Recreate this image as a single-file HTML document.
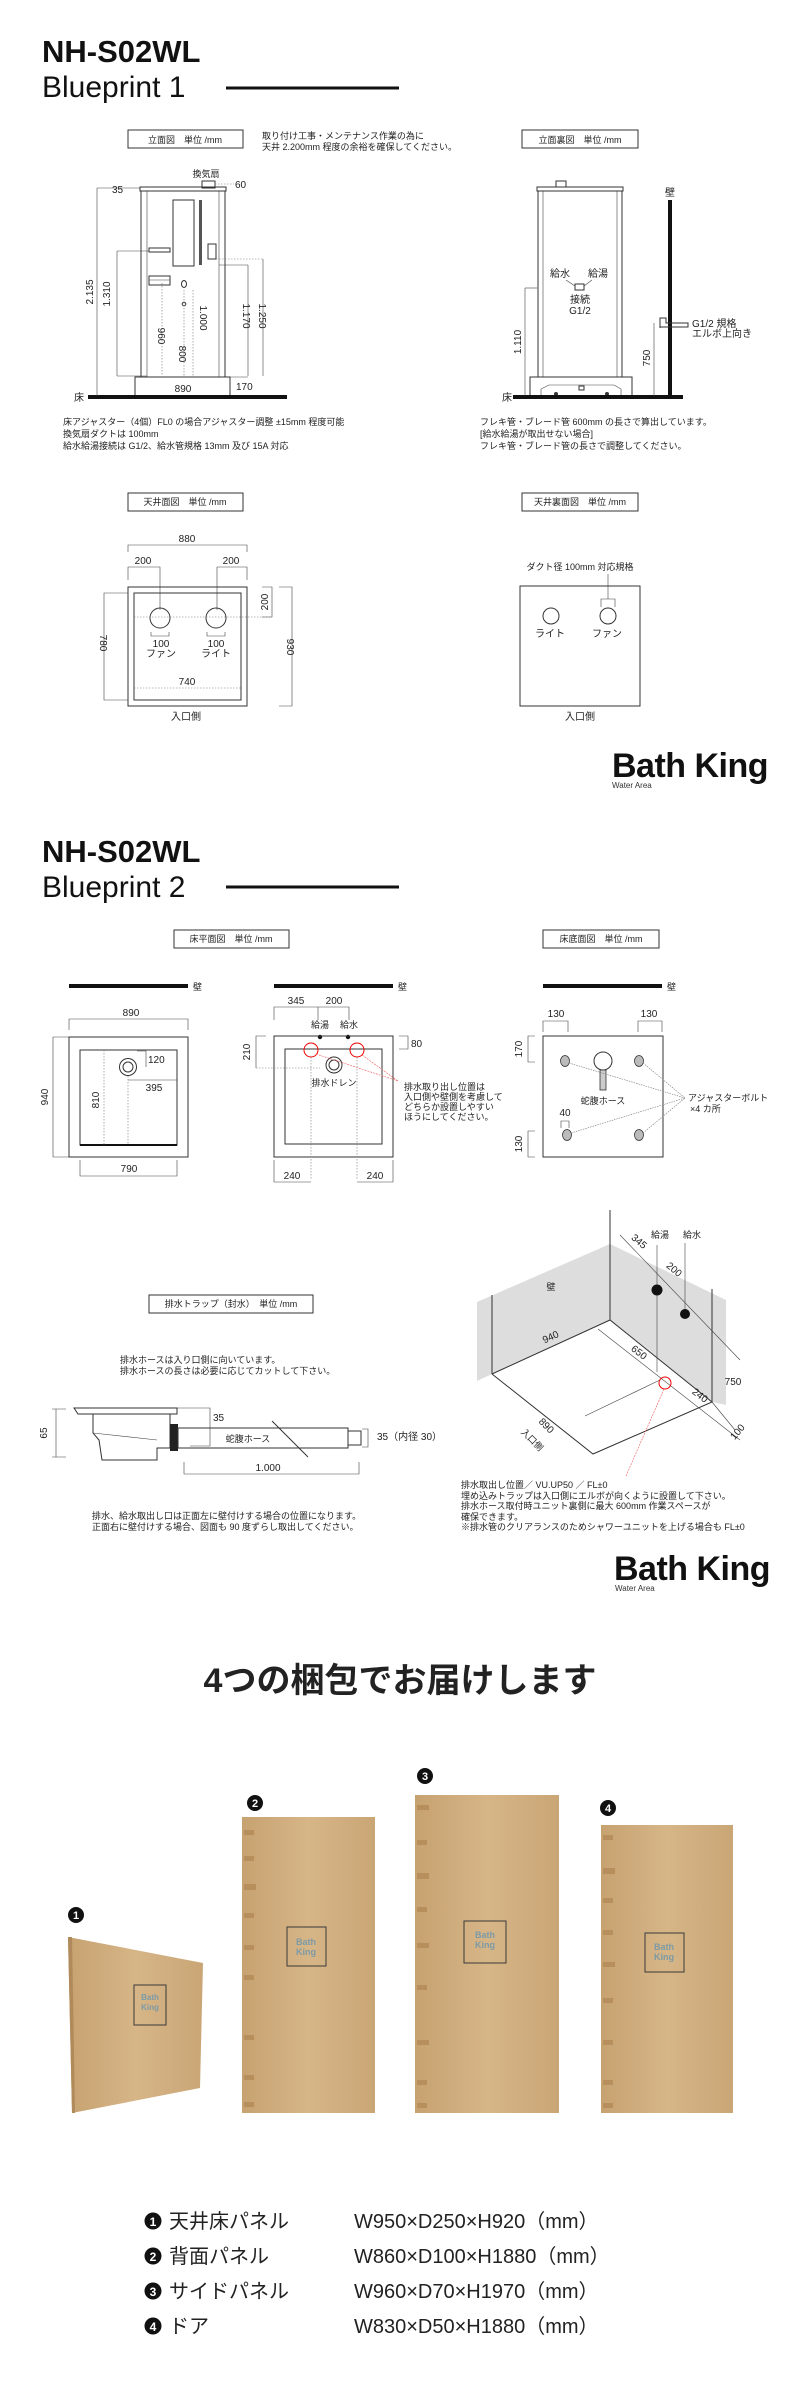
<!DOCTYPE html>
<html><head><meta charset="utf-8"><style>
html,body{margin:0;padding:0;background:#fff;}
svg{display:block;}
text{font-family:"Liberation Sans","Noto Sans CJK JP",sans-serif;fill:#222;}
.s{font-size:9px;}
.m{font-size:10px;}
.ln{stroke:#333;stroke-width:1;fill:none;}
.th{stroke:#444;stroke-width:0.6;fill:none;}
.dt{stroke:#777;stroke-width:0.6;fill:none;stroke-dasharray:1.5 1.5;}
</style></head><body>
<svg width="800" height="2400" viewBox="0 0 800 2400" xmlns="http://www.w3.org/2000/svg">
<defs>
<linearGradient id="cb" x1="0" y1="0" x2="1" y2="0">
<stop offset="0" stop-color="#c7a271"/><stop offset="0.5" stop-color="#d6b587"/><stop offset="1" stop-color="#caa676"/>
</linearGradient>
</defs>

<!-- ===== Blueprint 1 header ===== -->
<text x="42" y="62" style="font-size:31px;font-weight:bold;fill:#111">NH-S02WL</text>
<text x="42" y="97" style="font-size:30px;fill:#111">Blueprint 1</text>
<rect x="226" y="86.5" width="173" height="3" fill="#111"/>

<!-- boxes -->
<rect x="128" y="130" width="115" height="18" class="ln" stroke-width="1.2"/>
<text x="185" y="143" class="s" text-anchor="middle">立面図　単位 /mm</text>
<text x="262" y="139" class="s">取り付け工事・メンテナンス作業の為に</text>
<text x="262" y="150" class="s">天井 2.200mm 程度の余裕を確保してください。</text>
<rect x="522" y="130" width="116" height="18" class="ln" stroke-width="1.2"/>
<text x="580" y="143" class="s" text-anchor="middle">立面裏図　単位 /mm</text>

<!-- left elevation -->
<text x="206" y="177" class="s" text-anchor="middle">換気扇</text>
<rect x="202" y="181" width="13" height="7" class="ln"/>
<line x1="215" y1="184" x2="234" y2="184" class="dt"/>
<text x="235" y="188" class="m">60</text>
<line x1="97" y1="188" x2="140" y2="188" class="th"/>
<text x="112" y="193" class="m">35</text>
<rect x="140" y="187" width="86" height="4" class="ln"/>
<rect x="141" y="191" width="84" height="186" class="ln"/>
<line x1="147" y1="191" x2="147" y2="377" class="th"/>
<line x1="219" y1="191" x2="219" y2="377" class="th"/>
<rect x="173" y="200" width="21" height="66" class="ln"/>
<rect x="199" y="200" width="3" height="65" fill="#555"/>
<rect x="208" y="244" width="8" height="15" class="ln"/>
<rect x="149" y="248" width="21" height="4" class="ln"/>
<rect x="149" y="276" width="21" height="9" class="ln"/>
<line x1="149" y1="280" x2="170" y2="280" class="th"/>
<ellipse cx="184" cy="284" rx="2.5" ry="3.5" class="ln"/>
<circle cx="184" cy="304" r="1.8" class="ln"/>
<rect x="135" y="377" width="95" height="20" class="ln"/>
<rect x="88" y="395" width="199" height="4" fill="#111"/>
<text x="74" y="401" class="m">床</text>
<text x="183" y="392" class="m" text-anchor="middle">890</text>
<text x="236" y="390" class="m">170</text>
<line x1="230" y1="377" x2="248" y2="377" class="th"/>
<!-- dims -->
<line x1="97" y1="188" x2="97" y2="396" class="th"/>
<text x="93" y="292" class="m" text-anchor="middle" transform="rotate(-90 93 292)">2.135</text>
<line x1="117" y1="251" x2="117" y2="376" class="th"/>
<line x1="117" y1="251" x2="149" y2="251" class="th"/>
<line x1="117" y1="376" x2="147" y2="376" class="th"/>
<text x="110" y="294" class="m" text-anchor="middle" transform="rotate(-90 110 294)">1.310</text>
<line x1="162" y1="283" x2="162" y2="376" class="dt"/>
<text x="158" y="336" class="m" text-anchor="middle" transform="rotate(90 158 336)">960</text>
<line x1="184" y1="290" x2="184" y2="376" class="dt"/>
<text x="179" y="354" class="m" text-anchor="middle" transform="rotate(90 179 354)">800</text>
<line x1="193" y1="290" x2="193" y2="376" class="dt"/>
<text x="200" y="318" class="m" text-anchor="middle" transform="rotate(90 200 318)">1.000</text>
<line x1="219" y1="265" x2="248" y2="265" class="th"/>
<line x1="248" y1="265" x2="248" y2="376" class="th"/>
<text x="243" y="316" class="m" text-anchor="middle" transform="rotate(90 243 316)">1.170</text>
<line x1="216" y1="259" x2="263" y2="259" class="dt"/>
<line x1="263" y1="259" x2="263" y2="376" class="th"/>
<text x="259" y="316" class="m" text-anchor="middle" transform="rotate(90 259 316)">1.250</text>

<!-- right rear elevation -->
<rect x="556" y="181" width="10" height="6" class="ln"/>
<rect x="537" y="187" width="86" height="4" class="ln"/>
<rect x="538" y="191" width="84" height="186" class="ln"/>
<line x1="543" y1="191" x2="543" y2="377" class="th"/>
<line x1="617" y1="191" x2="617" y2="377" class="th"/>
<rect x="530" y="377" width="102" height="19" class="ln"/>
<path d="M541 396 L541 389 L549 385 L614 385 L621 389 L621 396" class="th"/>
<rect x="579" y="386" width="5" height="4" class="ln"/>
<circle cx="556" cy="394" r="2" fill="#333"/><circle cx="607" cy="394" r="2" fill="#333"/>
<rect x="513" y="395" width="170" height="4" fill="#111"/>
<text x="502" y="401" class="m">床</text>
<rect x="668" y="200" width="4" height="197" fill="#111"/>
<text x="670" y="196" class="m" text-anchor="middle">壁</text>
<text x="560" y="277" class="m" text-anchor="middle">給水</text>
<text x="598" y="277" class="m" text-anchor="middle">給湯</text>
<line x1="566" y1="280" x2="575" y2="286" class="th"/><line x1="592" y1="280" x2="584" y2="286" class="th"/>
<rect x="575" y="284" width="9" height="6" class="ln"/>
<text x="580" y="303" class="m" text-anchor="middle">接続</text>
<text x="580" y="314" class="m" text-anchor="middle">G1/2</text>
<path d="M660 328 L660 318 L666 318 L666 323 L688 323 L688 327 L660 327" class="ln"/>
<text x="692" y="327" class="m">G1/2 規格</text>
<text x="692" y="337" class="m">エルボ上向き</text>
<line x1="525" y1="288" x2="537" y2="288" class="th"/>
<line x1="525" y1="288" x2="525" y2="396" class="th"/>
<text x="521" y="342" class="m" text-anchor="middle" transform="rotate(-90 521 342)">1.110</text>
<line x1="654" y1="323" x2="654" y2="396" class="th"/>
<text x="650" y="358" class="m" text-anchor="middle" transform="rotate(-90 650 358)">750</text>

<!-- notes -->
<text x="63" y="425" class="s">床アジャスター（4個）FL0 の場合アジャスター調整 ±15mm 程度可能</text>
<text x="63" y="437" class="s">換気扇ダクトは 100mm</text>
<text x="63" y="449" class="s">給水給湯接続は G1/2、給水管規格 13mm 及び 15A 対応</text>
<text x="480" y="425" class="s">フレキ管・ブレード管 600mm の長さで算出しています。</text>
<text x="480" y="437" class="s">[給水給湯が取出せない場合]</text>
<text x="480" y="449" class="s">フレキ管・ブレード管の長さで調整してください。</text>

<!-- ceiling plans -->
<rect x="128" y="493" width="115" height="18" class="ln" stroke-width="1.2"/>
<text x="185" y="505" class="s" text-anchor="middle">天井面図　単位 /mm</text>
<rect x="522" y="493" width="116" height="18" class="ln" stroke-width="1.2"/>
<text x="580" y="505" class="s" text-anchor="middle">天井裏面図　単位 /mm</text>

<text x="187" y="542" class="m" text-anchor="middle">880</text>
<path d="M128 552 L128 545 L247 545 L247 552" class="th"/>
<text x="143" y="564" class="m" text-anchor="middle">200</text>
<text x="231" y="564" class="m" text-anchor="middle">200</text>
<path d="M128 580 L128 567 L160 567 L160 610" class="th"/>
<path d="M247 580 L247 567 L217 567 L217 610" class="th"/>
<rect x="128" y="587" width="119" height="119" class="ln" stroke-width="1.2"/>
<rect x="134" y="593" width="107" height="107" class="ln" stroke-width="1.5"/>
<ellipse cx="160" cy="618" rx="10" ry="10" class="ln"/>
<ellipse cx="216" cy="618" rx="10" ry="10" class="ln"/>
<line x1="134" y1="617" x2="272" y2="617" class="dt"/>
<path d="M151 632 L151 636 L169 636 L169 632" class="th"/>
<path d="M207 632 L207 636 L225 636 L225 632" class="th"/>
<text x="161" y="647" class="m" text-anchor="middle">100</text>
<text x="161" y="657" class="m" text-anchor="middle">ファン</text>
<text x="216" y="647" class="m" text-anchor="middle">100</text>
<text x="216" y="657" class="m" text-anchor="middle">ライト</text>
<text x="187" y="685" class="m" text-anchor="middle">740</text>
<line x1="134" y1="688" x2="241" y2="688" class="dt"/>
<path d="M128 593 L104 593 L104 700 L128 700" class="th"/>
<text x="100" y="643" class="m" text-anchor="middle" transform="rotate(90 100 643)">780</text>
<path d="M279 587 L292 587 L292 706 L279 706" class="th"/>
<text x="287" y="647" class="m" text-anchor="middle" transform="rotate(90 287 647)">930</text>
<path d="M262 587 L272 587 L272 617 L262 617" class="th"/>
<text x="268" y="602" class="m" text-anchor="middle" transform="rotate(-90 268 602)">200</text>
<text x="186" y="720" class="m" text-anchor="middle">入口側</text>

<text x="580" y="570" class="s" text-anchor="middle">ダクト径 100mm 対応規格</text>
<rect x="520" y="586" width="120" height="120" class="ln" stroke-width="1.2"/>
<ellipse cx="551" cy="616" rx="8" ry="8" class="ln"/>
<ellipse cx="608" cy="616" rx="8" ry="8" class="ln"/>
<line x1="608" y1="574" x2="608" y2="599" class="th"/>
<path d="M601 607 L601 599 L615 599 L615 607" class="th"/>
<text x="550" y="637" class="m" text-anchor="middle">ライト</text>
<text x="607" y="637" class="m" text-anchor="middle">ファン</text>
<text x="580" y="720" class="m" text-anchor="middle">入口側</text>

<text x="612" y="777" style="font-size:34px;font-weight:bold;fill:#111;letter-spacing:-0.5px">Bath King</text>
<text x="612" y="788" style="font-size:8px;fill:#333">Water Area</text>

<!-- ===== Blueprint 2 ===== -->
<text x="42" y="862" style="font-size:31px;font-weight:bold;fill:#111">NH-S02WL</text>
<text x="42" y="897" style="font-size:30px;fill:#111">Blueprint 2</text>
<rect x="226" y="885.5" width="173" height="3" fill="#111"/>

<rect x="174" y="930" width="115" height="18" class="ln" stroke-width="1.2"/>
<text x="231" y="942" class="s" text-anchor="middle">床平面図　単位 /mm</text>
<rect x="543" y="930" width="116" height="18" class="ln" stroke-width="1.2"/>
<text x="601" y="942" class="s" text-anchor="middle">床底面図　単位 /mm</text>

<!-- floor plan 1 -->
<rect x="69" y="984" width="119" height="4" fill="#111"/>
<text x="193" y="990" class="s">壁</text>
<text x="131" y="1016" class="m" text-anchor="middle">890</text>
<path d="M69 1030 L69 1019 L188 1019 L188 1030" class="th"/>
<rect x="69" y="1037" width="119" height="120" class="ln" stroke-width="1.2"/>
<rect x="80" y="1050" width="97" height="95" class="ln"/>
<line x1="80" y1="1145" x2="177" y2="1145" stroke="#111" stroke-width="2"/>
<circle cx="128" cy="1067" r="8.5" class="ln"/><circle cx="128" cy="1067" r="5" class="ln"/>
<path d="M137 1051 L146 1051 L146 1067" class="th"/>
<text x="148" y="1063" class="m">120</text>
<line x1="128" y1="1080" x2="177" y2="1080" class="th"/>
<text x="154" y="1091" class="m" text-anchor="middle">395</text>
<line x1="104" y1="1050" x2="104" y2="1145" class="dt"/>
<line x1="128" y1="1076" x2="128" y2="1145" class="dt"/>
<text x="99" y="1100" class="m" text-anchor="middle" transform="rotate(-90 99 1100)">810</text>
<path d="M69 1037 L53 1037 L53 1157 L69 1157" class="th"/>
<text x="48" y="1097" class="m" text-anchor="middle" transform="rotate(-90 48 1097)">940</text>
<text x="129" y="1172" class="m" text-anchor="middle">790</text>
<path d="M80 1160 L80 1176 L177 1176 L177 1160" class="th"/>

<!-- floor plan 2 -->
<rect x="274" y="984" width="119" height="4" fill="#111"/>
<text x="398" y="990" class="s">壁</text>
<text x="296" y="1004" class="m" text-anchor="middle">345</text>
<text x="334" y="1004" class="m" text-anchor="middle">200</text>
<path d="M274 1020 L274 1007 L349 1007 L349 1020 M318 1007 L318 1020" class="th"/>
<text x="320" y="1028" class="s" text-anchor="middle">給湯</text>
<text x="349" y="1028" class="s" text-anchor="middle">給水</text>
<circle cx="320" cy="1037" r="2.2" fill="#111"/><circle cx="348" cy="1037" r="2.2" fill="#111"/>
<rect x="274" y="1036" width="119" height="121" class="ln" stroke-width="1.2"/>
<rect x="285" y="1049" width="97" height="95" class="ln"/>
<circle cx="334" cy="1065" r="8" class="ln"/><circle cx="334" cy="1065" r="5" class="ln"/>
<text x="334" y="1086" class="s" text-anchor="middle">排水ドレン</text>
<circle cx="311" cy="1050" r="7" fill="none" stroke="#e00" stroke-width="1"/>
<circle cx="357" cy="1050" r="7" fill="none" stroke="#e00" stroke-width="1"/>
<line x1="316" y1="1054" x2="398" y2="1081" stroke="#e55" stroke-width="0.6" stroke-dasharray="2 1"/>
<line x1="362" y1="1055" x2="398" y2="1081" stroke="#e55" stroke-width="0.6" stroke-dasharray="2 1"/>
<line x1="311" y1="1057" x2="311" y2="1180" class="dt"/>
<line x1="357" y1="1057" x2="357" y2="1180" class="dt"/>
<line x1="256" y1="1068" x2="320" y2="1068" class="dt"/>
<path d="M266 1036 L256 1036 L256 1068" class="th"/>
<text x="250" y="1052" class="m" text-anchor="middle" transform="rotate(-90 250 1052)">210</text>
<path d="M399 1036 L408 1036 L408 1049 L399 1049" class="th"/>
<text x="411" y="1047" class="m">80</text>
<text x="404" y="1090" class="s">排水取り出し位置は</text>
<text x="404" y="1100" class="s">入口側や壁側を考慮して</text>
<text x="404" y="1110" class="s">どちらか設置しやすい</text>
<text x="404" y="1120" class="s">ほうにしてください。</text>
<text x="292" y="1179" class="m" text-anchor="middle">240</text>
<text x="375" y="1179" class="m" text-anchor="middle">240</text>
<path d="M274 1160 L274 1182 L311 1182 M357 1182 L393 1182 L393 1160" class="th"/>

<!-- floor bottom -->
<rect x="543" y="984" width="119" height="4" fill="#111"/>
<text x="667" y="990" class="s">壁</text>
<text x="556" y="1017" class="m" text-anchor="middle">130</text>
<text x="649" y="1017" class="m" text-anchor="middle">130</text>
<path d="M543 1032 L543 1021 L568 1021 L568 1032 M638 1032 L638 1021 L662 1021 L662 1032" class="th"/>
<rect x="543" y="1036" width="120" height="121" class="ln" stroke-width="1.2"/>
<ellipse cx="565" cy="1061" rx="4.5" ry="5.5" fill="#bbb" stroke="#333" stroke-width="0.8"/>
<ellipse cx="639" cy="1061" rx="4.5" ry="5.5" fill="#bbb" stroke="#333" stroke-width="0.8"/>
<ellipse cx="567" cy="1135" rx="4.5" ry="5.5" fill="#bbb" stroke="#333" stroke-width="0.8"/>
<ellipse cx="639" cy="1135" rx="4.5" ry="5.5" fill="#bbb" stroke="#333" stroke-width="0.8"/>
<circle cx="603" cy="1061" r="9" class="ln" stroke-width="1.2"/>
<rect x="600" y="1070" width="6" height="20" fill="#ccc" stroke="#333" stroke-width="0.8"/>
<text x="603" y="1104" class="s" text-anchor="middle">蛇腹ホース</text>
<text x="565" y="1116" class="m" text-anchor="middle">40</text>
<path d="M561 1128 L561 1121 L569 1121 L569 1128" class="th"/>
<g stroke="#777" stroke-width="0.6" stroke-dasharray="1.5 1">
<line x1="569" y1="1063" x2="685" y2="1098"/><line x1="643" y1="1063" x2="685" y2="1098"/>
<line x1="571" y1="1133" x2="685" y2="1098"/><line x1="643" y1="1133" x2="685" y2="1098"/>
</g>
<text x="688" y="1101" class="s">アジャスターボルト</text>
<text x="690" y="1112" class="s">×4 カ所</text>
<path d="M535 1036 L528 1036 L528 1062 L535 1062" class="th"/>
<text x="522" y="1049" class="m" text-anchor="middle" transform="rotate(-90 522 1049)">170</text>
<path d="M535 1131 L528 1131 L528 1157 L535 1157" class="th"/>
<text x="522" y="1144" class="m" text-anchor="middle" transform="rotate(-90 522 1144)">130</text>

<!-- drain trap -->
<rect x="149" y="1295" width="164" height="18" class="ln" stroke-width="1.2"/>
<text x="231" y="1307" class="s" text-anchor="middle">排水トラップ（封水）　単位 /mm</text>
<text x="120" y="1363" class="s">排水ホースは入り口側に向いています。</text>
<text x="120" y="1374" class="s">排水ホースの長さは必要に応じてカットして下さい。</text>
<path d="M74 1408 L177 1408 L177 1414 L78 1414 Z" class="ln"/>
<path d="M93 1414 L93 1433 L99 1440 L102 1460 L157 1460 L157 1448 L170 1448 L170 1414" class="ln"/>
<line x1="93" y1="1433" x2="157" y2="1440" class="th"/>
<rect x="170" y="1424" width="8" height="27" fill="#222"/>
<path d="M52 1409 L66 1409 M52 1457 L66 1457 M56 1409 L56 1457" class="th"/>
<text x="47" y="1433" class="m" text-anchor="middle" transform="rotate(-90 47 1433)">65</text>
<path d="M177 1408 L210 1408 L210 1446 L190 1446" class="th"/>
<text x="213" y="1421" class="m">35</text>
<rect x="178" y="1428" width="170" height="20" class="ln"/>
<rect x="348" y="1431" width="13" height="14" class="ln"/>
<text x="248" y="1442" class="s" text-anchor="middle">蛇腹ホース</text>
<line x1="272" y1="1421" x2="308" y2="1457" class="ln"/>
<path d="M362 1429 L368 1429 L368 1447 L362 1447" class="th"/>
<text x="377" y="1440" class="m">35（内径 30）</text>
<text x="268" y="1471" class="m" text-anchor="middle">1.000</text>
<path d="M184 1462 L184 1474 L359 1474 L359 1462" class="th"/>
<text x="92" y="1519" class="s">排水、給水取出し口は正面左に壁付けする場合の位置になります。</text>
<text x="92" y="1530" class="s">正面右に壁付けする場合、図面も 90 度ずらし取出してください。</text>

<!-- 3D corner -->
<polygon points="477,1302 610,1244 610,1320 492,1374 477,1381" fill="#ddd"/>
<polygon points="610,1244 726,1300 726,1405 712,1402 610,1320" fill="#ddd"/>
<line x1="492" y1="1295" x2="492" y2="1374" class="ln"/>
<line x1="610" y1="1210" x2="610" y2="1320" class="ln"/>
<line x1="712" y1="1289" x2="712" y2="1402" class="ln"/>
<polyline points="492,1374 610,1320 712,1402 593,1454 492,1374" class="ln"/>
<line x1="712" y1="1402" x2="735" y2="1430" class="th"/>
<line x1="598" y1="1329" x2="740" y2="1440" class="th"/>
<line x1="620" y1="1235" x2="740" y2="1360" class="th"/>
<line x1="585" y1="1416" x2="660" y2="1380" class="th"/>
<text x="551" y="1290" class="s" text-anchor="middle">壁</text>
<text x="660" y="1238" class="s" text-anchor="middle">給湯</text>
<text x="692" y="1238" class="s" text-anchor="middle">給水</text>
<line x1="657" y1="1245" x2="657" y2="1372" class="th"/>
<line x1="685" y1="1243" x2="685" y2="1313" class="th"/>
<circle cx="657" cy="1290" r="5.5" fill="#111"/>
<circle cx="685" cy="1314" r="5" fill="#111"/>
<text x="637" y="1244" class="m" text-anchor="middle" transform="rotate(40 637 1244)">345</text>
<text x="672" y="1272" class="m" text-anchor="middle" transform="rotate(40 672 1272)">200</text>
<text x="552" y="1340" class="m" text-anchor="middle" transform="rotate(-25 552 1340)">940</text>
<text x="637" y="1355" class="m" text-anchor="middle" transform="rotate(38 637 1355)">650</text>
<text x="698" y="1398" class="m" text-anchor="middle" transform="rotate(38 698 1398)">240</text>
<text x="740" y="1434" class="m" text-anchor="middle" transform="rotate(-50 740 1434)">100</text>
<text x="733" y="1385" class="m" text-anchor="middle">750</text>
<text x="544" y="1428" class="m" text-anchor="middle" transform="rotate(45 544 1428)">890</text>
<text x="530" y="1442" class="s" text-anchor="middle" transform="rotate(45 530 1442)">入口側</text>
<circle cx="665" cy="1383" r="6" fill="none" stroke="#e00" stroke-width="1"/>
<line x1="664" y1="1389" x2="626" y2="1476" stroke="#e55" stroke-width="0.6" stroke-dasharray="2 1"/>
<text x="461" y="1488" class="s">排水取出し位置／ VU.UP50 ／ FL±0</text>
<text x="461" y="1499" class="s">埋め込みトラップは入口側にエルボが向くように設置して下さい。</text>
<text x="461" y="1509" class="s">排水ホース取付時ユニット裏側に最大 600mm 作業スペースが</text>
<text x="461" y="1520" class="s">確保できます。</text>
<text x="461" y="1530" class="s">※排水管のクリアランスのためシャワーユニットを上げる場合も FL±0</text>

<text x="614" y="1580" style="font-size:34px;font-weight:bold;fill:#111;letter-spacing:-0.5px">Bath King</text>
<text x="615" y="1591" style="font-size:8px;fill:#333">Water Area</text>

<!-- ===== packages ===== -->
<text x="400" y="1692" text-anchor="middle" style="font-size:34px;font-weight:bold;fill:#222">4つの梱包でお届けします</text>

<!-- box 1 -->
<polygon points="68,1937 203,1963 200,2088 72,2113" fill="url(#cb)"/>
<polygon points="68,1937 72,1937 75,2113 72,2113" fill="#b08a5a"/>
<rect x="134" y="1985" width="32" height="40" fill="none" stroke="#3a3a3a" stroke-width="1"/>
<text x="150" y="2000" text-anchor="middle" style="font-size:8px;fill:#7c9aa6;font-weight:bold">Bath</text>
<text x="150" y="2010" text-anchor="middle" style="font-size:8px;fill:#7c9aa6;font-weight:bold">King</text>
<!-- box 2 -->
<rect x="242" y="1817" width="133" height="296" fill="url(#cb)"/>
<g fill="#b78f5c"><rect x="244" y="1830" width="10" height="5"/><rect x="244" y="1856" width="10" height="5"/><rect x="244" y="1884" width="12" height="6"/><rect x="244" y="1913" width="10" height="5"/><rect x="244" y="1945" width="10" height="5"/><rect x="244" y="1975" width="10" height="5"/><rect x="244" y="2035" width="10" height="5"/><rect x="244" y="2075" width="10" height="5"/><rect x="244" y="2102" width="10" height="5"/></g>
<rect x="287" y="1927" width="39" height="39" fill="none" stroke="#3a3a3a" stroke-width="1"/>
<text x="306" y="1945" text-anchor="middle" style="font-size:9px;fill:#7c9aa6;font-weight:bold">Bath</text>
<text x="306" y="1955" text-anchor="middle" style="font-size:9px;fill:#7c9aa6;font-weight:bold">King</text>
<!-- box 3 -->
<rect x="415" y="1795" width="144" height="318" fill="url(#cb)"/>
<g fill="#b78f5c"><rect x="417" y="1805" width="12" height="5"/><rect x="417" y="1840" width="10" height="5"/><rect x="417" y="1873" width="12" height="6"/><rect x="417" y="1907" width="10" height="5"/><rect x="417" y="1943" width="12" height="5"/><rect x="417" y="1985" width="10" height="5"/><rect x="417" y="2040" width="12" height="5"/><rect x="417" y="2080" width="10" height="5"/><rect x="417" y="2103" width="10" height="5"/></g>
<rect x="464" y="1921" width="42" height="42" fill="none" stroke="#3a3a3a" stroke-width="1"/>
<text x="485" y="1938" text-anchor="middle" style="font-size:9px;fill:#7c9aa6;font-weight:bold">Bath</text>
<text x="485" y="1948" text-anchor="middle" style="font-size:9px;fill:#7c9aa6;font-weight:bold">King</text>
<!-- box 4 -->
<rect x="601" y="1825" width="132" height="288" fill="url(#cb)"/>
<g fill="#b78f5c"><rect x="603" y="1835" width="10" height="5"/><rect x="603" y="1868" width="12" height="6"/><rect x="603" y="1898" width="10" height="5"/><rect x="603" y="1930" width="10" height="5"/><rect x="603" y="1962" width="12" height="5"/><rect x="603" y="1998" width="10" height="5"/><rect x="603" y="2040" width="10" height="5"/><rect x="603" y="2080" width="10" height="5"/><rect x="603" y="2103" width="10" height="5"/></g>
<rect x="645" y="1933" width="39" height="39" fill="none" stroke="#3a3a3a" stroke-width="1"/>
<text x="664" y="1950" text-anchor="middle" style="font-size:9px;fill:#7c9aa6;font-weight:bold">Bath</text>
<text x="664" y="1960" text-anchor="middle" style="font-size:9px;fill:#7c9aa6;font-weight:bold">King</text>

<!-- numbers -->
<g style="font-size:11px;font-weight:bold" text-anchor="middle">
<circle cx="76" cy="1915" r="8" fill="#111"/><text x="76" y="1919" style="fill:#fff">1</text>
<circle cx="255" cy="1803" r="8" fill="#111"/><text x="255" y="1807" style="fill:#fff">2</text>
<circle cx="425" cy="1776" r="8" fill="#111"/><text x="425" y="1780" style="fill:#fff">3</text>
<circle cx="608" cy="1808" r="8" fill="#111"/><text x="608" y="1812" style="fill:#fff">4</text>
</g>

<!-- list -->
<g style="font-size:20px">
<circle cx="153" cy="2221" r="8.5" fill="#111"/><text x="153" y="2226" text-anchor="middle" style="font-size:12px;font-weight:bold;fill:#fff">1</text>
<text x="169" y="2228" style="fill:#222">天井床パネル</text><text x="354" y="2228" style="fill:#222">W950×D250×H920（mm）</text>
<circle cx="153" cy="2256" r="8.5" fill="#111"/><text x="153" y="2261" text-anchor="middle" style="font-size:12px;font-weight:bold;fill:#fff">2</text>
<text x="169" y="2263" style="fill:#222">背面パネル</text><text x="354" y="2263" style="fill:#222">W860×D100×H1880（mm）</text>
<circle cx="153" cy="2291" r="8.5" fill="#111"/><text x="153" y="2296" text-anchor="middle" style="font-size:12px;font-weight:bold;fill:#fff">3</text>
<text x="169" y="2298" style="fill:#222">サイドパネル</text><text x="354" y="2298" style="fill:#222">W960×D70×H1970（mm）</text>
<circle cx="153" cy="2326" r="8.5" fill="#111"/><text x="153" y="2331" text-anchor="middle" style="font-size:12px;font-weight:bold;fill:#fff">4</text>
<text x="169" y="2333" style="fill:#222">ドア</text><text x="354" y="2333" style="fill:#222">W830×D50×H1880（mm）</text>
</g>
</svg>
</body></html>
